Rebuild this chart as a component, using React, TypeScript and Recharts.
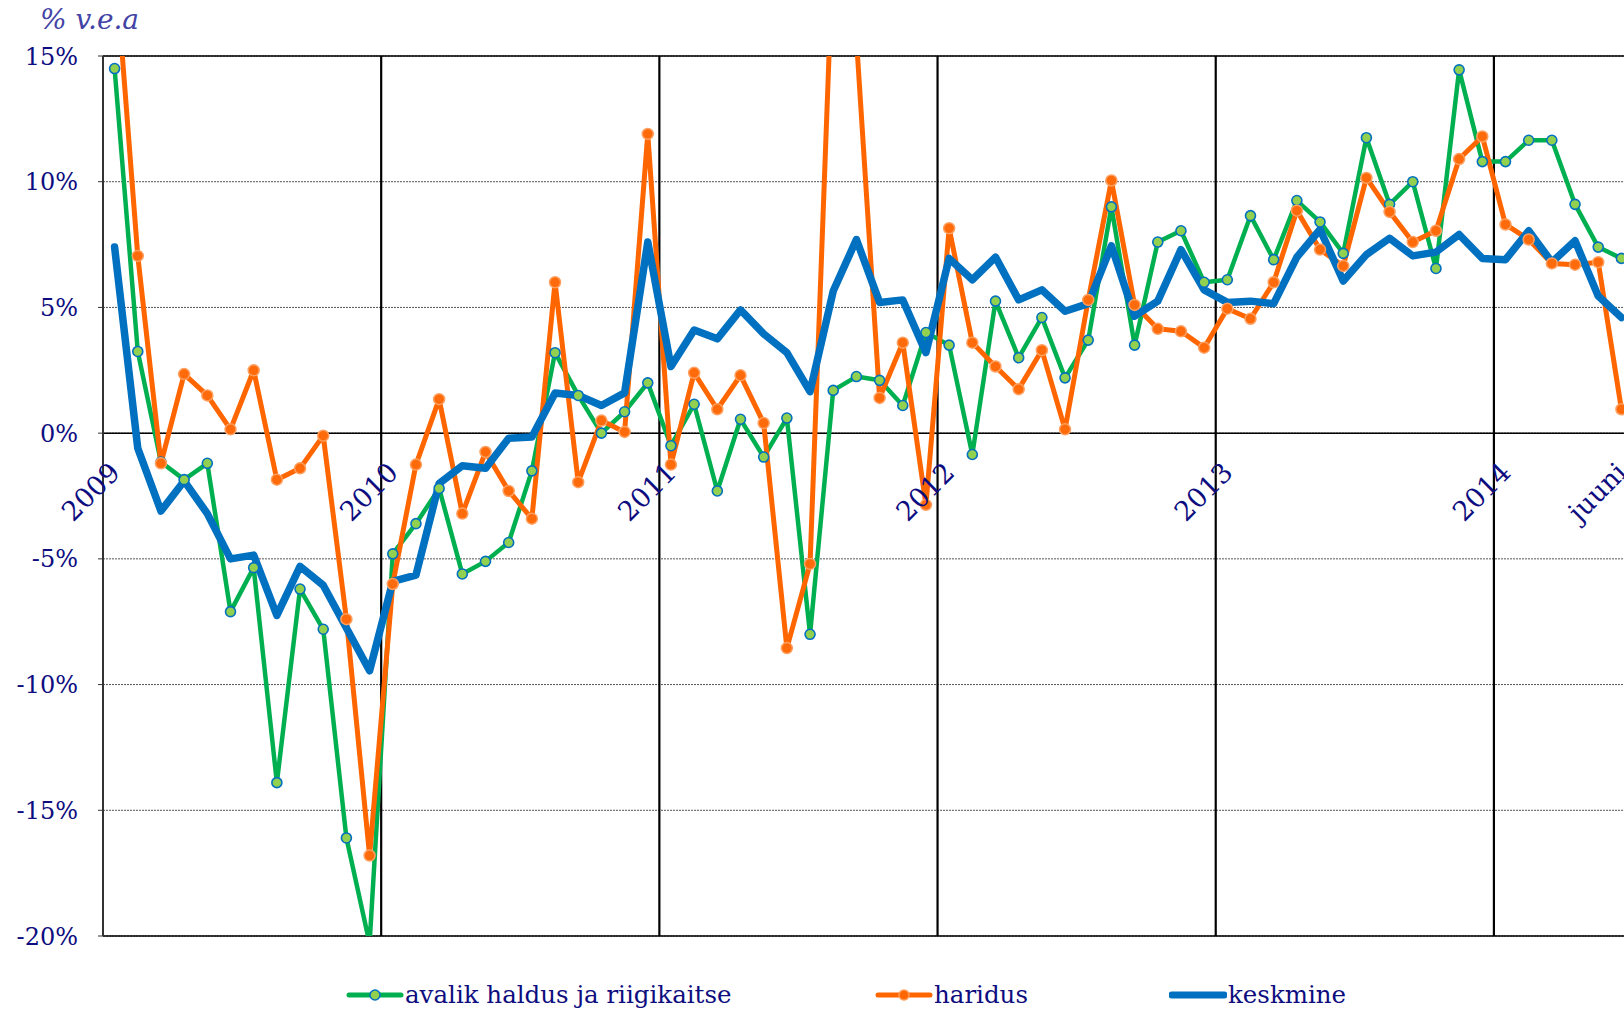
import React from "react";
import { CartesianGrid, Line, LineChart, ReferenceDot, ReferenceLine, XAxis, YAxis } from "recharts";

// monthly y/y change, Jan 2009 .. Jun 2014
const avalik = [
  14.5, 3.25, -1.15, -1.85, -1.2, -7.1, -5.35, -13.9, -6.2, -7.8, -16.1, -20.3,
  -4.8, -3.6, -2.2, -5.6, -5.1, -4.35, -1.5, 3.2, 1.5, 0.0, 0.85, 2.0,
  -0.5, 1.15, -2.3, 0.55, -0.95, 0.6, -8.0, 1.7, 2.25, 2.1, 1.1, 4.0,
  3.5, -0.85, 5.25, 3.0, 4.6, 2.2, 3.7, 9.0, 3.5, 7.6, 8.05, 6.0,
  6.1, 8.65, 6.9, 9.25, 8.4, 7.15, 11.75, 9.1, 10.0, 6.55, 14.45, 10.8,
  10.8, 11.65, 11.65, 9.1, 7.4, 6.95,
];
const haridus = [
  19.0, 7.05, -1.2, 2.35, 1.5, 0.15, 2.5, -1.85, -1.4, -0.1, -7.4, -16.8,
  -6.0, -1.25, 1.35, -3.2, -0.75, -2.3, -3.4, 6.0, -1.95, 0.5, 0.05, 11.9,
  -1.25, 2.4, 0.95, 2.3, 0.4, -8.55, -5.2, 19.5, 15.7, 1.4, 3.6, -2.85,
  8.15, 3.6, 2.65, 1.75, 3.3, 0.15, 5.3, 10.05, 5.1, 4.15, 4.05, 3.4,
  4.95, 4.55, 6.0, 8.85, 7.3, 6.65, 10.15, 8.8, 7.6, 8.05, 10.9, 11.8,
  8.3, 7.7, 6.75, 6.7, 6.8, 0.95,
];
const keskmine = [
  7.4, -0.6, -3.1, -1.9, -3.2, -5.0, -4.85, -7.25, -5.3, -6.05, -7.75, -9.45,
  -5.9, -5.65, -2.0, -1.3, -1.4, -0.2, -0.15, 1.6, 1.5, 1.1, 1.6, 7.6,
  2.65, 4.1, 3.75, 4.9, 3.95, 3.2, 1.65, 5.65, 7.7, 5.2, 5.3, 3.2,
  6.95, 6.1, 7.0, 5.3, 5.7, 4.85, 5.15, 7.45, 4.65, 5.25, 7.3, 5.7,
  5.2, 5.25, 5.15, 7.0, 8.1, 6.05, 7.1, 7.75, 7.05, 7.2, 7.9, 6.95,
  6.9, 8.05, 6.8, 7.65, 5.45, 4.6,
];
const xLabels = [
  { i: 0, label: "2009" },
  { i: 12, label: "2010" },
  { i: 24, label: "2011" },
  { i: 36, label: "2012" },
  { i: 48, label: "2013" },
  { i: 60, label: "2014" },
  { i: 65, label: "juuni" },
];
const yearBreaks = [11.5, 23.5, 35.5, 47.5, 59.5];
const yTicks = [15, 10, 5, 0, -5, -10, -15, -20];

const rows = avalik.map((v, i) => ({
  i,
  avalik: v,
  haridus: haridus[i],
  keskmine: keskmine[i],
}));

const NAVY = "#0d0d80";
const FONT = "'DejaVu Serif', serif";

function YearLabel(props: any) {
  const { cx, cy, label } = props;
  const x = cx + 7;
  const y = cy + 41;
  return (
    <text
      x={x}
      y={y}
      textAnchor="end"
      fill={NAVY}
      fontSize={27}
      fontFamily={FONT}
      transform={`rotate(-45 ${x} ${y})`}
    >
      {label}
    </text>
  );
}

const legendItems = [
  { label: "avalik haldus ja riigikaitse", color: "#00b050", left: 346, w: 5, dot: { fill: "#92d050", stroke: "#0070c0" } },
  { label: "haridus", color: "#ff6600", left: 875, w: 5, dot: { fill: "#ff6600", stroke: "#ff9a55" } },
  { label: "keskmine", color: "#0070c0", left: 1169, w: 7, dot: null },
];

function LegendRow() {
  return (
    <>
      {legendItems.map((it) => (
        <div
          key={it.label}
          style={{ position: "absolute", left: it.left, top: 980, display: "flex", alignItems: "center", whiteSpace: "nowrap" }}
        >
          <svg width={58} height={20}>
            <line x1={3} y1={10} x2={55} y2={10} stroke={it.color} strokeWidth={it.w} strokeLinecap="round" />
            {it.dot && <circle cx={29} cy={10} r={5} fill={it.dot.fill} stroke={it.dot.stroke} strokeWidth={1.5} />}
          </svg>
          <span style={{ fontFamily: FONT, fontSize: 24.5, color: NAVY, marginLeft: 1 }}>{it.label}</span>
        </div>
      ))}
    </>
  );
}

export default function App() {
  return (
    <div style={{ position: "fixed", left: 0, top: 0, width: 1624, height: 1010, overflow: "hidden", background: "#fff" }}>
      <div
        style={{ position: "absolute", left: 40, top: 3, fontFamily: FONT, fontStyle: "italic", fontSize: 28, color: "#4343a6" }}
      >
        % v.e.a
      </div>
      <LineChart width={1640} height={1010} data={rows} margin={{ top: 56, right: 7, bottom: 74, left: 0 }}>
        <CartesianGrid vertical={false} stroke="#555" strokeDasharray="2 1" />
        <XAxis dataKey="i" type="number" domain={[-0.5, 65.5]} hide allowDataOverflow />
        <YAxis
          type="number"
          domain={[-20, 15]}
          ticks={yTicks}
          allowDataOverflow
          width={103}
          tickFormatter={(v) => `${v}%`}
          tick={{ fill: NAVY, fontSize: 24, fontFamily: FONT }}
          tickSize={5}
          tickMargin={20}
          tickLine={{ stroke: "#333" }}
          axisLine={{ stroke: "#333", strokeWidth: 2 }}
        />
        {yearBreaks.map((x) => (
          <ReferenceLine key={x} x={x} stroke="#000" strokeWidth={2.2} />
        ))}
        <ReferenceLine y={15} stroke="#000" strokeWidth={1.5} />
        <ReferenceLine y={0} stroke="#000" strokeWidth={1.5} />
        <ReferenceLine y={-20} stroke="#000" strokeWidth={1.5} />
        <Line
          dataKey="avalik"
          stroke="#00b050"
          strokeWidth={4.5}
          strokeLinejoin="round"
          dot={{ r: 5, fill: "#92d050", stroke: "#0070c0", strokeWidth: 1.6 }}
          activeDot={false}
          isAnimationActive={false}
        />
        <Line
          dataKey="haridus"
          stroke="#ff6600"
          strokeWidth={5}
          strokeLinejoin="round"
          dot={{ r: 5.5, fill: "#ff6a0a", stroke: "#ffa060", strokeWidth: 1.5 }}
          activeDot={false}
          isAnimationActive={false}
        />
        <Line
          dataKey="keskmine"
          stroke="#0070c0"
          strokeWidth={7.5}
          strokeLinejoin="round"
          strokeLinecap="round"
          dot={false}
          activeDot={false}
          isAnimationActive={false}
        />
        {xLabels.map((t) => (
          <ReferenceDot
            key={t.label}
            x={t.i}
            y={0}
            r={0}
            ifOverflow="visible"
            shape={(p: any) => <YearLabel {...p} label={t.label} />}
          />
        ))}
      </LineChart>
      <LegendRow />
    </div>
  );
}
